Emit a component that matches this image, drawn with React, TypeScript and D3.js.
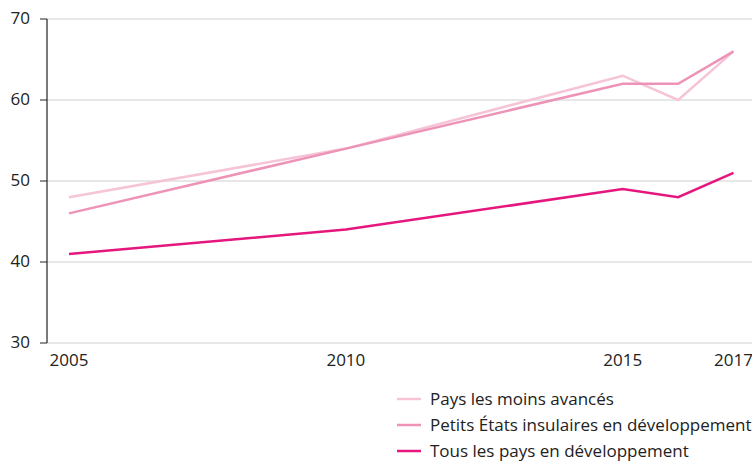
import React from "react";
import * as d3 from "d3";

const years = [2005, 2010, 2015, 2016, 2017];
const ldc = [48, 54, 63, 60, 66];
const sids = [46, 54, 62, 62, 66];
const allDev = [41, 44, 49, 48, 51];
const yTicks = [30, 40, 50, 60, 70];
const xTicks = [2005, 2010, 2015, 2017];
const seriesNames = ["Pays les moins avancés", "Petits États insulaires en développement", "Tous les pays en développement"];
const colors = ["#f6c4d7", "#ee93b8", "#e5177e"];

export default function App() {
  const W = 752, H = 461;
  const x = d3.scaleLinear().domain([2005, 2017]).range([69, 733.5]);
  const y = d3.scaleLinear().domain([30, 70]).range([343, 19]);
  const line = d3.line<number>().x((_, i) => x(years[i])).y((d) => y(d));
  const series = [ldc, sids, allDev];
  const font = "'Open Sans', sans-serif";
  return (
    <svg width={W} height={H} style={{ position: "absolute", left: 0, top: 0 }}>
      {yTicks.map((t) => (
        <g key={t}>
          {t !== 30 && <line x1={47} x2={752} y1={y(t)} y2={y(t)} stroke="#d0d0d0" strokeWidth={1} />}
          <line x1={40} x2={47} y1={y(t)} y2={y(t)} stroke="#222" strokeWidth={1} />
          <text x={30} y={y(t) - 1} dy="0.35em" textAnchor="end" fontFamily={font} fontSize={17} fill="#222">{t}</text>
        </g>
      ))}
      <line x1={47} x2={752} y1={y(30)} y2={y(30)} stroke="#d0d0d0" strokeWidth={1} />
      <line x1={47} x2={47} y1={y(70)} y2={y(30)} stroke="#222" strokeWidth={1.2} />
      {xTicks.map((t) => (
        <text key={t} x={x(t)} y={366} textAnchor="middle" fontFamily={font} fontSize={17} fill="#222">{t}</text>
      ))}
      {series.map((s, i) => (
        <path key={i} d={line(s) || ""} fill="none" stroke={colors[i]} strokeWidth={2.5} />
      ))}
      {seriesNames.map((n, i) => (
        <g key={n} transform={`translate(397, ${399 + i * 26})`}>
          <line x1={0} x2={24} y1={0} y2={0} stroke={colors[i]} strokeWidth={2.5} />
          <text x={33} y={0} dy="0.35em" fontFamily={font} fontSize={17} fill="#222">{n}</text>
        </g>
      ))}
    </svg>
  );
}
